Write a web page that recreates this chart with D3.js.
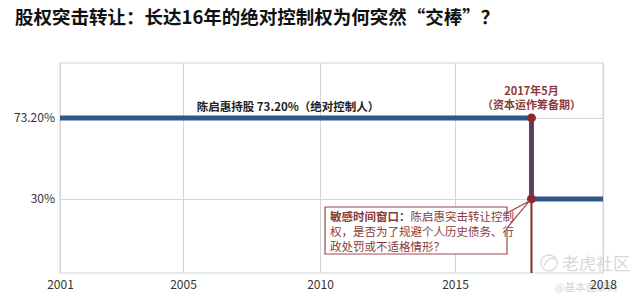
<!DOCTYPE html>
<html><head><meta charset="utf-8">
<script src="https://cdn.jsdelivr.net/npm/d3@7/dist/d3.min.js"></script>
<style>
body{margin:0;background:#fff;}
text{font-family:"Noto Sans CJK SC","Noto Sans",sans-serif;}
</style></head>
<body><svg id="c" width="640" height="300"></svg>
<script>
const title = "股权突击转让：长达16年的绝对控制权为何突然“交棒”？";
const xTicks = [2001, 2005, 2010, 2015, 2018];
const yTicks = [30, 73.2];
const yTickLabels = ["30%", "73.20%"];
const eventX = 2016.55; // position of the 2017年5月 transfer as drawn on the axis
const seriesX = [2001, eventX, eventX, 2018];
const seriesY = [73.2, 73.2, 30, 30];
const holdLabel = "陈启惠持股 73.20%（绝对控制人）";
const eventLabel = ["2017年5月", "（资本运作筹备期）"];
const noteBold = "敏感时间窗口：";
const noteLines = ["陈启惠突击转让控制", "权，是否为了规避个人历史债务、行", "政处罚或不适格情形？"];

const svg = d3.select("#c");
const L = 60, R = 603, T = 63, B = 273;
const x = d3.scaleLinear().domain(xTicks).range([60, 183, 320, 455, 603]);
const y = d3.scaleLinear().domain([-9.5, 102.5]).range([B, T]);
const blue = "#2f5886", red = "#8a2a30", grid = "#d4d4d4";

svg.append("text").attr("x", 15).attr("y", 24).attr("font-size", 18.5).attr("font-weight", "bold")
  .attr("fill", "#111").text(title);

// watermark (behind the axis labels)
const wm = svg.append("g").attr("fill", "none").attr("stroke", "#dcdcdc").attr("stroke-width", 1.5);
wm.append("circle").attr("cx", 549).attr("cy", 263).attr("r", 8);
wm.append("path").attr("d", "M544,266 Q549,256 555,259");
svg.append("text").attr("x", 596).attr("y", 270).attr("text-anchor", "middle").attr("font-size", 17)
  .attr("fill", "#d8d8d8").text("老虎社区");
svg.append("text").attr("x", 586).attr("y", 291).attr("text-anchor", "middle").attr("font-size", 10.5)
  .attr("fill", "#d4d4d4").text("@基本面解码");

// gridlines via axes
const gx = svg.append("g").attr("transform", `translate(0,${B})`)
  .call(d3.axisBottom(x).tickValues(xTicks).tickFormat(d3.format("d")).tickSize(-(B - T)).tickPadding(7));
gx.select(".domain").remove();
gx.selectAll("line").attr("stroke", grid);
gx.selectAll("text").attr("font-size", 12).attr("fill", "#333").attr("font-family", "'Open Sans','Noto Sans',sans-serif");

const gy = svg.append("g").attr("transform", `translate(${L},0)`)
  .call(d3.axisLeft(y).tickValues(yTicks).tickFormat((d, i) => yTickLabels[i]).tickSize(-(R - L)).tickPadding(5));
gy.select(".domain").remove();
gy.selectAll("line").attr("stroke", grid);
gy.selectAll("text").attr("font-size", 12).attr("fill", "#333").attr("font-family", "'Open Sans','Noto Sans',sans-serif");

svg.append("rect").attr("x", L).attr("y", T).attr("width", R - L).attr("height", B - T)
  .attr("fill", "none").attr("stroke", grid);

// series
const line = d3.line().x(d => x(d[0])).y(d => y(d[1]));
const pts = seriesX.map((d, i) => [d, seriesY[i]]);
svg.append("path").attr("d", line(pts)).attr("fill", "none").attr("stroke", blue).attr("stroke-width", 5);

// event line
svg.append("line").attr("x1", x(eventX)).attr("x2", x(eventX)).attr("y1", y(73.2)).attr("y2", B)
  .attr("stroke", red).attr("stroke-width", 2);
svg.selectAll("circle.ev").data([73.2, 30]).enter().append("circle")
  .attr("cx", x(eventX)).attr("cy", d => y(d)).attr("r", 4.5).attr("fill", red);

svg.append("text").attr("x", 288).attr("y", 111).attr("text-anchor", "middle").attr("font-size", 11.5)
  .attr("font-weight", "bold").attr("fill", "#222").text(holdLabel);

svg.selectAll("text.ev").data(eventLabel).enter().append("text")
  .attr("x", x(eventX)).attr("y", (d, i) => 94.5 + i * 14.5).attr("text-anchor", "middle")
  .attr("font-size", 11).attr("font-weight", "bold").attr("fill", "#8a3a3a").text(d => d);

// callout
const bx0 = 325, by0 = 207, bx1 = 507, by1 = 254;
const cx = x(eventX), cy = y(30);
svg.append("path").attr("d",
  `M${bx0},${by0}H${bx1}V213L${cx - 2},${cy + 2}L${bx1},228V${by1}H${bx0}Z`)
  .attr("fill", "#fff").attr("stroke", "#9a4a4a").attr("stroke-width", 1.2);
const t1 = svg.append("text").attr("x", 330).attr("y", 221).attr("font-size", 11.5).attr("fill", "#8a3a3a");
t1.append("tspan").attr("font-weight", "bold").text(noteBold);
t1.append("tspan").text(noteLines[0]);
noteLines.slice(1).forEach((s, i) => {
  svg.append("text").attr("x", 330).attr("y", 236 + i * 14.5).attr("font-size", 11.5)
    .attr("fill", "#8a3a3a").text(s);
});
</script></body></html>
